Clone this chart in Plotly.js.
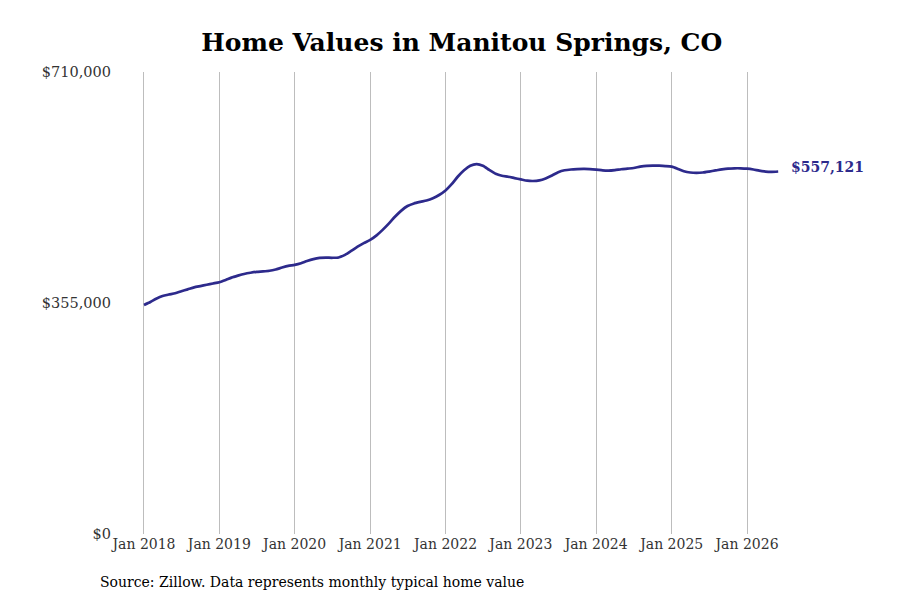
<!DOCTYPE html>
<html>
<head>
<meta charset="utf-8">
<script src="https://cdn.plot.ly/plotly-3.0.1.min.js"></script>
<style>html,body{margin:0;padding:0;background:#fff;}#chart{width:900px;height:600px;}</style>
</head>
<body>
<div id="chart"></div>
<script>
// Monthly typical home value, Jan 2018 .. Jun 2026
const startYear = 2018;
const startMonth = 1;
const homeValues = [
  352000, 356500, 361500, 365800, 368000, 370000, 373000, 376000, 379100, 381000, 383000, 385000,
  387000, 390500, 394000, 397000, 399600, 401500, 402800, 403500, 404500, 406500, 409500, 412000,
  413500, 416000, 419500, 422500, 424300, 424700, 424500, 425000, 429000, 435000, 441500, 447000,
  452000, 459000, 467000, 477000, 487500, 497000, 504000, 508000, 510500, 512500, 516000, 521000,
  528000, 538000, 549000, 559000, 566000, 568500, 566000, 559500, 553500, 550500, 549000, 547000,
  545000, 543000, 542500, 543500, 546500, 551000, 556000, 559000, 560200, 560700, 561000, 560800,
  560000, 558800, 558400, 559200, 560500, 561500, 562500, 564500, 565800, 566200, 566000, 565500,
  564500, 561000, 557500, 555500, 555000, 555500, 557000, 558700, 560300, 561500, 562000, 562000,
  561500, 560200, 558500, 557000, 556600, 557121
];
const yTickVals = [0, 355000, 710000];
const yTickText = ["$0", "$355,000", "$710,000"];
const lastLabel = "$557,121";
const titleText = "Home Values in Manitou Springs, CO";
const sourceText = "Source: Zillow. Data represents monthly typical home value";

const dates = homeValues.map((_, i) => {
  const y = startYear + Math.floor((startMonth - 1 + i) / 12);
  const m = ((startMonth - 1 + i) % 12) + 1;
  return y + "-" + String(m).padStart(2, "0") + "-01";
});

const lineColor = "#2d2a8c";
const fontFam = "DejaVu Serif, serif";

const trace = {
  x: dates,
  y: homeValues,
  type: "scatter",
  mode: "lines",
  line: {color: lineColor, width: 2.7, shape: "spline", smoothing: 0.6},
  hoverinfo: "skip"
};

const layout = {
  width: 900,
  height: 600,
  margin: {l: 112, r: 115, t: 72, b: 66},
  paper_bgcolor: "#fff",
  plot_bgcolor: "#fff",
  showlegend: false,
  font: {family: fontFam, size: 14, color: "#333"},
  title: {
    text: "<b>" + titleText + "</b>",
    font: {family: fontFam, size: 25, color: "#000"},
    xref: "container", x: 0.513, xanchor: "center",
    yref: "container", y: 0.93, yanchor: "middle"
  },
  xaxis: {
    type: "date",
    range: ["2017-07-30", "2026-07-04"],
    tickvals: ["2018-01-01","2019-01-01","2020-01-01","2021-01-01","2022-01-01","2023-01-01","2024-01-01","2025-01-01","2026-01-01"],
    tickformat: "%b %Y",
    showgrid: true,
    gridcolor: "#bdbdbd",
    gridwidth: 1,
    zeroline: false,
    showline: false,
    ticks: "",
    tickfont: {family: fontFam, size: 14, color: "#333"}
  },
  yaxis: {
    range: [0, 710000],
    tickvals: yTickVals,
    ticktext: yTickText,
    showgrid: false,
    zeroline: false,
    showline: false,
    ticks: "",
    tickfont: {family: fontFam, size: 14.5, color: "#333"}
  },
  annotations: [
    {
      x: dates[dates.length - 1], y: homeValues[homeValues.length - 1],
      xref: "x", yref: "y",
      text: "<b>" + lastLabel + "</b>",
      showarrow: false, xanchor: "left", yanchor: "middle",
      xshift: 11, yshift: 4,
      font: {family: fontFam, size: 14, color: lineColor}
    },
    {
      x: 0, y: 0, xref: "paper", yref: "paper",
      text: sourceText, showarrow: false,
      xanchor: "left", yanchor: "middle",
      xshift: -14, yshift: -48,
      font: {family: fontFam, size: 14, color: "#000"}
    }
  ]
};

Plotly.newPlot("chart", [trace], layout, {staticPlot: true, displayModeBar: false});
</script>
</body>
</html>
